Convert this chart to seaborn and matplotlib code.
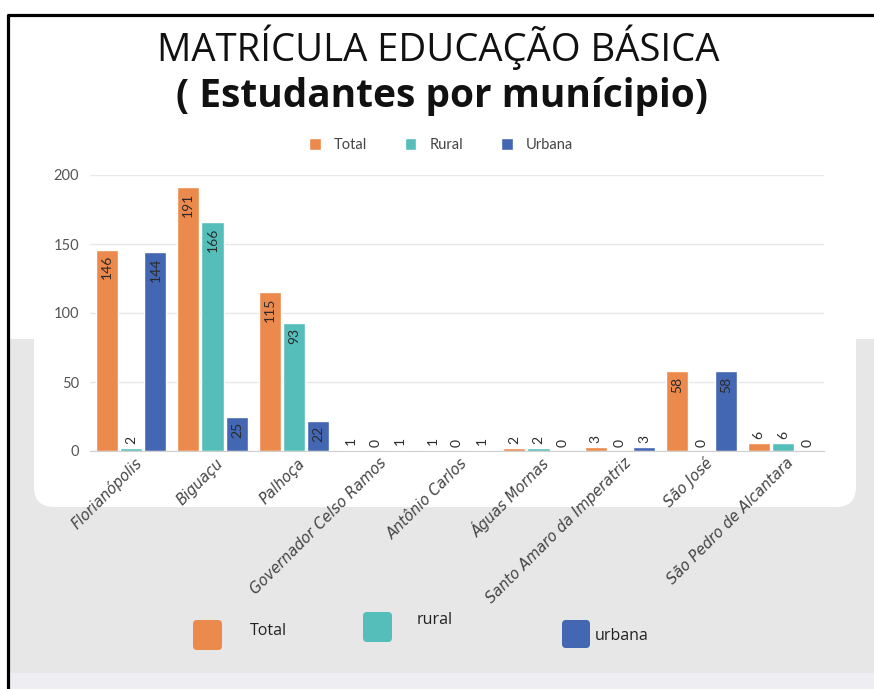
import matplotlib.pyplot as plt
import matplotlib.transforms as mtransforms
import seaborn as sns
import pandas as pd
from matplotlib.patches import Rectangle, FancyBboxPatch
from matplotlib.lines import Line2D

# dados
municipios = ["Florianópolis", "Biguaçu", "Palhoça", "Governador Celso Ramos",
              "Antônio Carlos", "Águas Mornas", "Santo Amaro da Imperatriz",
              "São José", "São Pedro de Alcantara"]
total = [146, 191, 115, 1, 1, 2, 3, 58, 6]
rural = [2, 166, 93, 0, 0, 2, 0, 0, 6]
urbana = [144, 25, 22, 1, 1, 0, 3, 58, 0]
series = ["Total", "Rural", "Urbana"]
legenda_baixo = ["Total", "rural", "urbana"]
cores = ["#EC894D", "#55BEBB", "#4367B3"]

W, H = 874, 689


def fx(x):
    return x / W


def fy(y):
    return 1 - y / H


sns.set_style("white")
plt.rcParams["font.family"] = ["Lato", "DejaVu Sans"]

fig = plt.figure(figsize=(W / 100, H / 100), dpi=100)
fig.patch.set_facecolor("white")

# fundo: faixa cinza, cartão branco arredondado e borda preta
fig.add_artist(Rectangle((fx(9), fy(673)), 1, (673 - 339) / H, transform=fig.transFigure,
                         facecolor="#e6e7e6", edgecolor="none", zorder=-3))
fig.add_artist(Rectangle((fx(9), 0), 1, (689 - 673) / H, transform=fig.transFigure,
                         facecolor="#eeeef2", edgecolor="none", zorder=-3))
fig.add_artist(FancyBboxPatch((34, H - 507), 822, 250, boxstyle="round,pad=0,rounding_size=20",
                              transform=None, facecolor="white", edgecolor="none", zorder=-2))
fig.add_artist(Line2D([fx(8), fx(8), fx(874)], [fy(689), fy(15), fy(15)], transform=fig.transFigure,
                      color="black", lw=2.3, zorder=5))

df = pd.DataFrame({
    "Município": municipios * 3,
    "Série": [s for s in series for _ in municipios],
    "Valor": total + rural + urbana,
})

ax = fig.add_axes([fx(90.25), fy(451), (823.75 - 90.25) / W, 276 / H])
ax.set_facecolor("none")
sns.barplot(data=df, x="Município", y="Valor", hue="Série", palette=cores, width=0.9, gap=0.1,
            saturation=1, ax=ax, legend=False)
ax.set_xlim(-0.5, 8.5)
ax.set_ylim(0, 200)
ax.set_yticks([0, 50, 100, 150, 200])
ax.yaxis.grid(True, color="#e8e8e8", lw=1)
ax.set_axisbelow(True)
for s in ["top", "right", "left"]:
    ax.spines[s].set_visible(False)
ax.spines["bottom"].set_color("#cfcfcf")
ax.set_xlabel("")
ax.set_ylabel("")
ax.tick_params(axis="y", length=0, pad=8, labelsize=10.5, labelcolor="#555555")
ax.tick_params(axis="x", length=0, pad=7)
ax.set_xticks(range(len(municipios)))
ax.set_xticklabels(municipios, rotation=45, ha="right", va="center", rotation_mode="anchor",
                   fontstyle="italic", fontsize=10.5, family="DejaVu Sans", color="#444444")
desloc = mtransforms.ScaledTranslation(6 / 72, 0, fig.dpi_scale_trans)
for lbl in ax.get_xticklabels():
    lbl.set_transform(lbl.get_transform() + desloc)

# rótulos de valor
for cont, vals in zip(ax.containers, [total, rural, urbana]):
    for bar, v in zip(cont, vals):
        xc = bar.get_x() + bar.get_width() / 2
        h = bar.get_height()
        if v >= 10:
            ax.annotate(str(v), (xc, h), xytext=(0, -4), textcoords="offset points",
                        rotation=90, ha="center", va="top", fontsize=10, color="#2b2b2b")
        else:
            ax.annotate(str(v), (xc, h), xytext=(0, 3), textcoords="offset points",
                        rotation=90, ha="center", va="bottom", fontsize=10, color="#2b2b2b")

# legenda superior
handles = [Rectangle((0, 0), 1, 1, facecolor=c) for c in cores]
ax.legend(handles, series, loc="center", bbox_to_anchor=(fx(441), fy(145)),
          bbox_transform=fig.transFigure, ncol=3, frameon=False, handlelength=0.8,
          handleheight=0.8, columnspacing=2.6, handletextpad=0.9, fontsize=10.5,
          labelcolor="#444444")

# títulos
fig.text(fx(438), fy(47), "MATRÍCULA EDUCAÇÃO BÁSICA", ha="center", va="center",
         fontsize=27.5, family="Open Sans", color="#111111")
fig.text(fx(442), fy(97), "( Estudantes por munícipio)", ha="center", va="center",
         fontsize=28, family="Open Sans", fontweight="bold", color="#111111")

# legenda inferior
caixas = [(193, 620, 29, 30), (363, 612, 29, 30), (562, 620, 28, 28)]
textos = [(250, 631), (417, 620), (595, 636)]
for (x, y, w, h), (tx, ty), c, lab in zip(caixas, textos, cores, legenda_baixo):
    fig.add_artist(FancyBboxPatch((x, H - y - h), w, h, boxstyle="round,pad=0,rounding_size=4",
                                  transform=None, facecolor=c, edgecolor="none", zorder=2))
    fig.text(fx(tx), fy(ty), lab, ha="left", va="center", fontsize=11.5,
             family="Open Sans", color="#222222")

fig.savefig("out.png", dpi=100)
